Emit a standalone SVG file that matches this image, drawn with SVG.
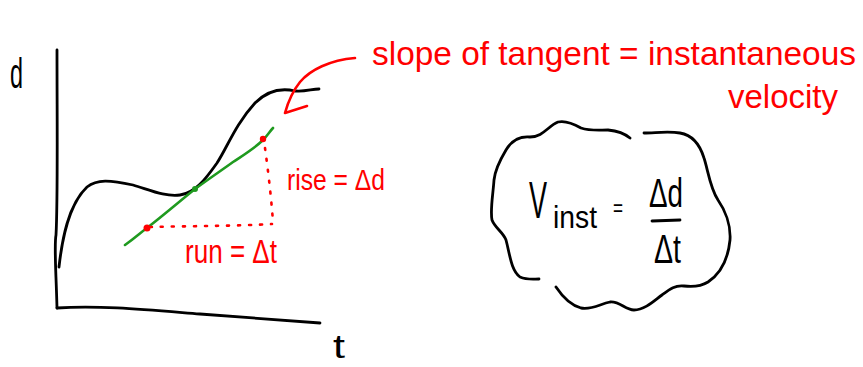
<svg xmlns="http://www.w3.org/2000/svg" width="863" height="367" viewBox="0 0 863 367">
<style>
.ink{fill:none;stroke:#000;stroke-width:2.8;stroke-linecap:round;stroke-linejoin:round}
.red{fill:none;stroke:#ff0000;stroke-width:2.6;stroke-linecap:round;stroke-linejoin:round}
.grn{fill:none;stroke:#1f9a1f;stroke-width:2.6;stroke-linecap:round;stroke-linejoin:round}
.dot{fill:none;stroke:#ff0000;stroke-width:2.6;stroke-linecap:round;stroke-dasharray:2 9}
.tr{font-family:"Liberation Sans","DejaVu Sans",sans-serif;fill:#ff0000}
.tk{font-family:"Liberation Sans","DejaVu Sans",sans-serif;fill:#000}
</style>
<rect width="863" height="367" fill="#fff"/>
<g id="axes">
<path class="ink" d="M57,50 C57,120 58,200 56,235 C54,245 56,270 57,308"/>
<path class="ink" d="M57,308 C100,305 150,310 200,314 C250,318 290,321 320,323"/>
<text class="tk" x="10" y="88" font-size="42" textLength="13" lengthAdjust="spacingAndGlyphs">d</text>
<text class="tk" x="333" y="358" font-size="34" textLength="12" lengthAdjust="spacingAndGlyphs">t</text>
</g>
<g id="curve">
<path class="ink" d="M59,267 C62,240 68,205 87,187 C97,179 110,180 133,185 C150,190 165,197 180,195 C195,193 205,180 217,163 C228,146 235,125 255,103 C268,90 282,88 295,91 C305,92 312,89 319,89"/>
</g>
<g id="tangent">
<path class="grn" d="M125,245 C135,238 140,233 147,228 C165,214 180,201 195,189 C210,178 222,170 233,162 C245,154 255,148 263,140 C267,136 270,131 273,128"/>
<circle cx="195" cy="189" r="3" fill="#1f9a1f"/>
<circle cx="147" cy="228" r="3.5" fill="#ff0000"/>
<circle cx="263" cy="139" r="3.2" fill="#ff0000"/>
</g>
<g id="rise-run">
<path class="dot" d="M150,227 C190,226 240,226 272,224"/>
<path class="dot" d="M265,148 C268,170 271,195 273,222"/>
<text class="tr" x="185" y="263" font-size="34" textLength="92" lengthAdjust="spacingAndGlyphs">run = Δt</text>
<text class="tr" x="287" y="190" font-size="30" textLength="98" lengthAdjust="spacingAndGlyphs">rise = Δd</text>
</g>
<g id="label">
<text class="tr" x="372" y="65" font-size="33" textLength="484" lengthAdjust="spacingAndGlyphs">slope of tangent = instantaneous</text>
<text class="tr" x="728" y="108" font-size="34" textLength="110" lengthAdjust="spacingAndGlyphs">velocity</text>
</g>
<g id="cloud">
<path class="ink" d="M630,138 C624,133 618,131 608,130 C598,130 590,131 581,128 C574,124 566,120 558,122 C548,126 543,137 530,137 C520,136 512,140 506,150 C500,160 495,170 494,180 C493,195 490,210 492,220 C495,228 503,232 506,240 C510,255 511,270 520,277 C527,280 533,279 539,279"/>
<path class="ink" d="M556,287 C562,296 570,305 581,308 C592,310 600,304 610,302 C620,301 625,310 634,310 C645,310 655,300 662,295 C670,289 675,285 684,286 C692,287 700,287 708,282 C720,274 728,260 730,240 C731,225 725,210 718,200 C710,188 708,170 704,158 C700,145 692,135 680,133 C668,131 655,133 644,133"/>
<text class="tk" transform="translate(529,218) scale(0.52,1)" font-size="52">V</text>
<text class="tk" x="553" y="228" font-size="32" textLength="44" lengthAdjust="spacingAndGlyphs">inst</text>
<text class="tk" x="613" y="216" font-size="24" textLength="10" lengthAdjust="spacingAndGlyphs">=</text>
<text class="tk" x="649" y="207" font-size="40" textLength="34" lengthAdjust="spacingAndGlyphs">Δd</text>
<path class="ink" d="M652,221 L680,220"/>
<text class="tk" x="654" y="263" font-size="40" textLength="27" lengthAdjust="spacingAndGlyphs">Δt</text>
</g>
<g id="connectors">
<path class="red" d="M355,58 C330,60 310,70 300,82 C292,92 288,102 285,113 L307,106"/>
</g>
</svg>
